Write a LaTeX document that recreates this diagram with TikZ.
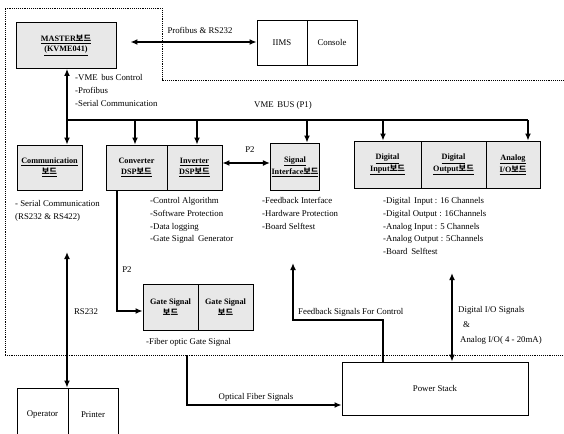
\documentclass[tikz,border=0pt]{standalone}
\usepackage{fontspec}
\setmainfont{Liberation Serif}
\newfontfamily\kr{Noto Sans CJK KR}
\usepackage{tikz}
\usetikzlibrary{arrows.meta}

\begin{document}
\begin{tikzpicture}[x=0.3mm, y=-0.3mm,
                box/.style={draw, line width=0.6pt, fill=gray!18, minimum height=45*0.3mm, inner sep=1pt, align=center, font=\fontsize{7}{9}\selectfont\bfseries},
                plainbox/.style={draw, line width=0.6pt, inner sep=1pt, align=center, font=\fontsize{7.5}{9}\selectfont},
                lbl/.style={inner sep=0pt, align=left, font=\fontsize{7.5}{11}\selectfont},
                sig/.style={line width=1.3pt, -{Latex[length=6pt, width=5pt]}},
                dsig/.style={line width=1.3pt, {Latex[length=6pt, width=5pt]}-{Latex[length=6pt, width=5pt]}},
                border/.style={densely dotted, line width=0.6pt}]
                \useasboundingbox (0,0) rectangle (564,433);
                \draw[border] (5,355) -- (5,8) -- (162,8) -- (162,80) -- (564,80);
                \draw[border] (5,355) -- (564,355);
                \node[box, minimum width=100*0.3mm, minimum height=46*0.3mm] (master) at (66,45.5) {\underline{MASTER{\kr 보드}}\\\underline{(KVME041)}};
                \node[plainbox, minimum width=50*0.3mm, minimum height=45*0.3mm] (iims) at (282,42.5) {IIMS};
                \node[plainbox, minimum width=50*0.3mm, minimum height=45*0.3mm] (console) at (332,42.5) {Console};
                \node[box, minimum width=65*0.3mm] (comm) at (49.5,167.5) {\underline{Communication}\\\underline{\kr 보드}};
                \node[box, minimum width=61*0.3mm] (conv) at (136.5,167.5) {Converter\\\underline{DSP{\kr 보드}}};
                \node[box, minimum width=55*0.3mm] (inv) at (194.5,167.5) {\underline{Inverter}\\\underline{DSP{\kr 보드}}};
                \node[box, minimum width=46*0.3mm, minimum height=47*0.3mm] (sigif) at (295,166.5) {\underline{Signal}\\\underline{Interface{\kr 보드}}};
                \node[box, minimum width=67*0.3mm, minimum height=47*0.3mm] (din) at (387.5,164.5) {\underline{Digital}\\\underline{Input{\kr 보드}}};
                \node[box, minimum width=65*0.3mm, minimum height=47*0.3mm] (dout) at (453.5,164.5) {\underline{Digital}\\\underline{Output{\kr 보드}}};
                \node[box, minimum width=54*0.3mm, minimum height=47*0.3mm] (aio) at (513,164.5) {\underline{Analog}\\\underline{I/O{\kr 보드}}};
                \node[box, minimum width=55*0.3mm, minimum height=46*0.3mm] (gatea) at (170.5,307) {Gate Signal\\{\kr 보드}};
                \node[box, minimum width=55*0.3mm, minimum height=46*0.3mm] (gateb) at (225.5,307) {Gate Signal\\{\kr 보드}};
                \node[plainbox, minimum width=51*0.3mm, minimum height=54*0.3mm] (oper) at (42.5,415) {Operator};
                \node[plainbox, minimum width=50*0.3mm, minimum height=54*0.3mm] (printer) at (93,415) {Printer};
                \node[plainbox, minimum width=186*0.3mm, minimum height=53*0.3mm] (power) at (435,388.5) {Power Stack};
                \coordinate (busl) at (67,120);
                \coordinate (busr) at (528,120);
                \coordinate (rstop) at (67,252);
                \coordinate (fbend) at (293,263);
                \coordinate (diotop) at (452,273);
                \coordinate (opttop) at (187,355);
                \draw[line width=1.3pt] (busl) -- (busr);
                \draw[sig] (busl) -- (master.south -| busl);
                \foreach \n/\x in {comm/67, conv/135, inv/197, sigif/307, din/383, aio/528}
                    \draw[sig] (\x,120) -- (\n.north -| \x,0);
                \draw[dsig, shorten <=12pt] (master.east |- 0,42) -- (iims.west |- 0,42);
                \draw[dsig] (inv.east |- 0,163) -- (sigif.west |- 0,163);
                \draw[sig] (conv.south -| 117,0) |- (gatea.west |- 0,311);
                \draw[dsig] (rstop) -- (oper.north -| rstop);
                \draw[sig] (power.north -| 383,0) -- (383,320) -- (293,320) -- (fbend);
                \draw[dsig] (diotop) -- (diotop |- power.north);
                \draw[sig] (opttop) |- (power.west |- 0,405);
                \node[lbl] (profl) at (200,30) {Profibus \& RS232};
                \node[lbl, anchor=north west] (masterl) at (75,74) {-VME\,  bus Control\\-Profibus\\-Serial Communication};
                \node[lbl] (busll) at (283,105) {VME\, BUS (P1)};
                \node[lbl, anchor=north west] (comml) at (15,200) {- Serial Communication\\(RS232 \& RS422)};
                \node[lbl, anchor=north west] (invl) at (150,197) {-Control Algorithm\\-Software Protection\\-Data logging\\-Gate Signal\, Generator};
                \node[lbl, anchor=north west] (sigifl) at (262,197) {-Feedback Interface\\-Hardware Protection\\-Board Selftest};
                \node[lbl, anchor=north west] (dinl) at (383,197) {-Digital\, Input : 16 Channels\\-Digital Output : 16Channels\\-Analog Input : 5 Channels\\-Analog Output : 5Channels\\-Board\, Selftest};
                \node[lbl] (ptwo) at (250,150) {P2};
                \node[lbl] (ptwob) at (127,270) {P2};
                \node[lbl] (rsl) at (86,312) {RS232};
                \node[lbl, anchor=west] (gatel) at (146,342) {-Fiber optic Gate Signal};
                \node[lbl] (optl) at (256,397) {Optical Fiber Signals};
                \node[lbl, anchor=south west] (fbl) at (298,317) {Feedback Signals For Control};
                \node[lbl, anchor=west] (diol) at (458,310) {Digital I/O Signals};
                \node[lbl, anchor=west] (andl) at (463,325) {\&};
                \node[lbl, anchor=west] (anl) at (460,340) {Analog I/O( 4 - 20mA)};
            \end{tikzpicture}
\end{document}
